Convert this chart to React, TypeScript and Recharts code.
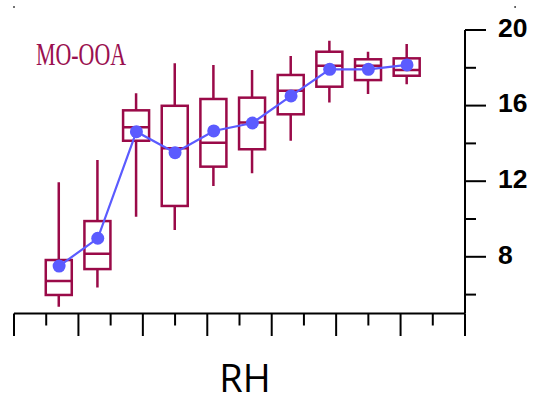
import React from 'react';
import { ComposedChart, Bar, Line, XAxis, YAxis, Customized } from 'recharts';

// RH bin centres (%)
const rhBins = [7, 13, 19, 25, 31, 37, 43, 49, 55, 61];
// MO-OOA box statistics per RH bin
const whiskerLow = [5.36, 6.37, 10.12, 9.42, 11.75, 12.42, 14.14, 16.17, 16.61, 17.13];
const q1 = [5.98, 7.35, 14.14, 10.69, 12.77, 13.69, 15.54, 17.0, 17.35, 17.58];
const median = [6.72, 8.16, 14.85, 13.74, 14.04, 15.1, 16.79, 18.11, 18.11, 17.88];
const q3 = [7.83, 9.89, 15.75, 15.99, 16.35, 16.42, 17.62, 18.85, 18.45, 18.5];
const whiskerHigh = [11.94, 13.12, 16.65, 18.24, 18.15, 17.88, 18.62, 19.43, 18.85, 19.26];
const mean = [7.51, 8.98, 14.62, 13.51, 14.66, 15.08, 16.51, 17.92, 17.92, 18.15];

const xTicks = [0, 5, 10, 15, 20, 25, 30, 35, 40, 45, 50, 55, 60, 65, 70];
const xMajorTicks = [0, 10, 20, 30, 40, 50, 60, 70];
const yTicks = [6, 8, 10, 12, 14, 16, 18, 20];
const yLabelled = [8, 12, 16, 20];

const BOX_COLOR = '#9A0A48';
const MEAN_COLOR = '#5B5BFF';

const data = rhBins.map((rh, i) => ({
  rh,
  low: whiskerLow[i],
  q1: q1[i],
  median: median[i],
  q3: q3[i],
  high: whiskerHigh[i],
  mean: mean[i],
}));

// Whisker range bar -> full box plot (positions interpolated on the bar's own pixel span)
const BoxShape = (props: any) => {
  const { x, y, width, height, payload } = props;
  const top = Math.min(y, y + height);
  const h = Math.abs(height);
  const lo = payload.low;
  const hi = payload.high;
  const toPx = (v: number) => top + ((hi - v) / (hi - lo)) * h;
  const cx = x + width / 2;
  const yQ1 = toPx(payload.q1);
  const yQ3 = toPx(payload.q3);
  const yMed = toPx(payload.median);
  return (
    <g stroke={BOX_COLOR} strokeWidth={2.5} fill="none">
      <line x1={cx} x2={cx} y1={top} y2={yQ3} />
      <line x1={cx} x2={cx} y1={yQ1} y2={top + h} />
      <rect x={x} y={yQ3} width={width} height={yQ1 - yQ3} />
      <line x1={x} x2={x + width} y1={yMed} y2={yMed} />
    </g>
  );
};

const BottomTick = (props: any) => {
  const { x, y, payload } = props;
  const major = xMajorTicks.includes(payload.value);
  return <line x1={x} x2={x} y1={y} y2={y + (major ? 22.5 : 12)} stroke="#000" strokeWidth={2} />;
};

const TopTick = (props: any) => {
  const { x, y, payload } = props;
  if (!xMajorTicks.includes(payload.value)) return <g />;
  return <line x1={x} x2={x} y1={y - 24} y2={y - 22} stroke="#444" strokeWidth={1.5} />;
};

const RightTick = (props: any) => {
  const { x, y, payload } = props;
  const labelled = yLabelled.includes(payload.value);
  return (
    <g>
      <line x1={x} x2={x + (labelled ? 21 : 11)} y1={y} y2={y} stroke="#000" strokeWidth={2} />
      {labelled && (
        <text
          x={x + 33}
          y={y + 6.8}
          fontFamily="'Liberation Sans', Arial, sans-serif"
          fontSize={26.5}
          fontWeight={600}
          fill="#000"
          textAnchor="start"
          style={{ textAnchor: 'start' }}
        >
          {payload.value}
        </text>
      )}
    </g>
  );
};

const Annotations = () => (
  <g>
    <text
      x={36}
      y={65}
      fontFamily="'Liberation Serif', 'Times New Roman', serif"
      fontSize={32}
      fill="#9A1050"
      textLength={90}
      lengthAdjust="spacingAndGlyphs"
    >
      MO-OOA
    </text>
    <text
      x={245}
      y={392}
      fontFamily="'Open Sans', 'Noto Sans', sans-serif"
      fontSize={38}
      fill="#000"
      textAnchor="middle"
    >
      RH
    </text>
  </g>
);

export default function App() {
  return (
    <div style={{ position: 'absolute', left: 0, top: 0, background: '#fff' }}>
      <ComposedChart
        width={539}
        height={397}
        data={data}
        margin={{ top: 0, right: 0, bottom: 0, left: 14 }}
      >
        <XAxis
          xAxisId="main"
          dataKey="rh"
          type="number"
          domain={[0, 70]}
          ticks={xTicks}
          interval={0}
          allowDataOverflow
          height={83.5}
          axisLine={{ stroke: '#000', strokeWidth: 2 }}
          tickLine={false}
          tickSize={0}
          tickMargin={0}
          tick={<BottomTick />}
        />
        <XAxis
          xAxisId="top"
          orientation="top"
          type="number"
          domain={[0, 70]}
          ticks={xTicks}
          interval={0}
          allowDataOverflow
          height={30}
          axisLine={false}
          tickLine={false}
          tickSize={0}
          tickMargin={0}
          tick={<TopTick />}
        />
        <YAxis
          yAxisId="v"
          orientation="right"
          type="number"
          domain={[5, 20]}
          ticks={yTicks}
          interval={0}
          allowDataOverflow
          width={74}
          axisLine={{ stroke: '#000', strokeWidth: 2 }}
          tickLine={false}
          tickSize={0}
          tickMargin={0}
          tick={<RightTick />}
        />
        <Bar
          xAxisId="main"
          yAxisId="v"
          dataKey={(d: any) => [d.low, d.high]}
          barSize={26}
          shape={<BoxShape />}
          isAnimationActive={false}
        />
        <Line
          xAxisId="main"
          yAxisId="v"
          dataKey="mean"
          type="linear"
          stroke={MEAN_COLOR}
          strokeWidth={2.2}
          dot={{ r: 6.5, fill: MEAN_COLOR, stroke: 'none' }}
          activeDot={false}
          isAnimationActive={false}
        />
        <Customized component={<Annotations />} />
      </ComposedChart>
    </div>
  );
}
